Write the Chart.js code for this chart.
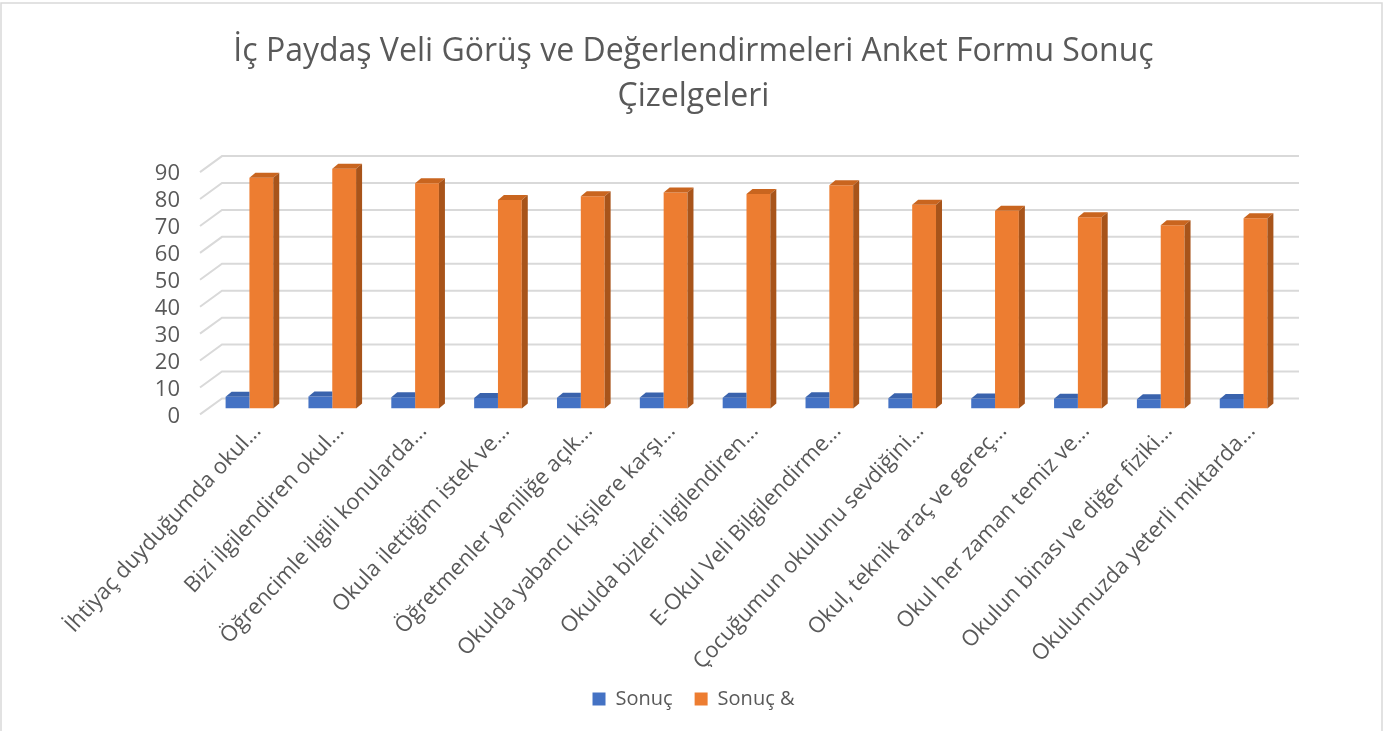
<!DOCTYPE html>
<html>
<head>
<meta charset="utf-8">
<script src="https://cdn.jsdelivr.net/npm/chart.js@4"></script>
<style>
  body { margin: 0; background: #fff; }
  #wrap { position: absolute; left: 0; top: 0; width: 1398px; height: 731px; }
</style>
</head>
<body>
<div id="wrap"><canvas id="chart-area"></canvas></div>
<script>
var categories = [
    'İhtiyaç duyduğumda okul...',
    'Bizi ilgilendiren okul...',
    'Öğrencimle ilgili konularda...',
    'Okula ilettiğim istek ve...',
    'Öğretmenler yeniliğe açık...',
    'Okulda yabancı kişilere karşı...',
    'Okulda bizleri ilgilendiren...',
    'E-Okul Veli Bilgilendirme...',
    'Çocuğumun okulunu sevdiğini...',
    'Okul, teknik araç ve gereç...',
    'Okul her zaman temiz ve...',
    'Okulun binası ve diğer fiziki...',
    'Okulumuzda yeterli miktarda...'
];
var sonuc = [4.29, 4.45, 4.18, 3.87, 3.94, 4.01, 3.98, 4.15, 3.78, 3.67, 3.55, 3.40, 3.53];
var sonucYuzde = [85.7, 89, 83.6, 77.4, 78.8, 80.2, 79.6, 82.9, 75.6, 73.4, 71, 68, 70.6];
var yTicks = [0, 10, 20, 30, 40, 50, 60, 70, 80, 90];

var textColor = '#595959';
var fontName = "'Open Sans', sans-serif";

// pseudo 3D: back wall grid + bar tops/sides
var fake3d = {
    id: 'fake3d',
    beforeDraw: function (chart) {
        var ctx = chart.ctx;
        ctx.save();
        ctx.strokeStyle = '#d9d9d9';
        ctx.lineWidth = 1.5;
        ctx.strokeRect(1, 3, 1381, 740);
        ctx.restore();
    },
    beforeDatasetsDraw: function (chart) {
        var ctx = chart.ctx;
        var y = chart.scales.y;
        var area = chart.chartArea;
        ctx.save();
        ctx.strokeStyle = '#d9d9d9';
        ctx.lineWidth = 2;
        yTicks.forEach(function (v) {
            var py = y.getPixelForValue(v) - 10;
            ctx.beginPath();
            ctx.moveTo(area.left - 8, py + 16);
            ctx.lineTo(area.left + 14, py);
            ctx.lineTo(area.right + 14, py);
            ctx.stroke();
        });
        ctx.restore();
    },
    afterDatasetsDraw: function (chart) {
        var ctx = chart.ctx;
        var dx = 6, dy = 5;
        var shades = [
            { top: '#3a63ad', side: '#2f5597' },
            { top: '#c9651f', side: '#a8541a' }
        ];
        ctx.save();
        chart.data.datasets.forEach(function (ds, di) {
            var meta = chart.getDatasetMeta(di);
            meta.data.forEach(function (bar) {
                var l = bar.x - bar.width / 2, r = bar.x + bar.width / 2;
                var t = bar.y, b = bar.base;
                ctx.fillStyle = shades[di].top;
                ctx.beginPath();
                ctx.moveTo(l, t);
                ctx.lineTo(l + dx, t - dy);
                if (di === 0) {
                    ctx.lineTo(r, t - dy);
                    ctx.lineTo(r, t);
                } else {
                    ctx.lineTo(r + dx, t - dy);
                    ctx.lineTo(r, t);
                }
                ctx.closePath();
                ctx.fill();
                if (di === 1) {
                    ctx.fillStyle = shades[di].side;
                    ctx.beginPath();
                    ctx.moveTo(r, t);
                    ctx.lineTo(r + dx, t - dy);
                    ctx.lineTo(r + dx, b - dy);
                    ctx.lineTo(r, b);
                    ctx.closePath();
                    ctx.fill();
                }
            });
        });
        ctx.restore();
    }
};

var config = {
    type: 'bar',
    data: {
        labels: categories,
        datasets: [{
            label: 'Sonuç',
            data: sonuc,
            backgroundColor: '#4472c4',
            categoryPercentage: 0.575,
            barPercentage: 1
        }, {
            label: 'Sonuç &',
            data: sonucYuzde,
            backgroundColor: '#ed7d31',
            categoryPercentage: 0.575,
            barPercentage: 1
        }]
    },
    options: {
        responsive: true,
        maintainAspectRatio: false,
        animation: false,
        layout: { padding: { left: 5, right: 16, top: 10, bottom: 12 } },
        plugins: {
            title: {
                display: true,
                text: ['İç Paydaş Veli Görüş ve Değerlendirmeleri Anket Formu Sonuç', 'Çizelgeleri'],
                color: textColor,
                font: { family: fontName, size: 32, weight: 'normal', lineHeight: '45px' },
                padding: { top: 19.5, bottom: 46.6 }
            },
            legend: {
                position: 'bottom',
                labels: {
                    color: textColor,
                    font: { family: fontName, size: 20 },
                    boxWidth: 13,
                    boxHeight: 13,
                    padding: 22
                }
            },
            tooltip: { enabled: false }
        },
        scales: {
            x: {
                grid: { display: false, drawTicks: false },
                border: { display: false },
                ticks: {
                    color: textColor,
                    font: { family: fontName, size: 22 },
                    maxRotation: 47,
                    minRotation: 47,
                    autoSkip: false,
                    padding: 10,
                    labelOffset: 8
                },
                afterFit: function (s) { s.height = 258.6; }
            },
            y: {
                min: 0,
                max: 90,
                grid: { display: false, drawTicks: false },
                border: { display: false },
                ticks: {
                    stepSize: 10,
                    autoSkip: false,
                    color: textColor,
                    font: { family: fontName, size: 22 },
                    padding: 28,
                    labelOffset: 8
                },
                afterFit: function (s) { s.width = 203; }
            },
            // empty right axis, only keeps room on the right side
            yRight: {
                position: 'right',
                min: 0,
                max: 90,
                grid: { display: false, drawTicks: false },
                border: { display: false },
                ticks: { display: false },
                afterFit: function (s) { s.width = 97; }
            }
        }
    },
    plugins: [fake3d]
};

var ctx = document.getElementById('chart-area').getContext('2d');
window.myBar = new Chart(ctx, config);
</script>
</body>
</html>
